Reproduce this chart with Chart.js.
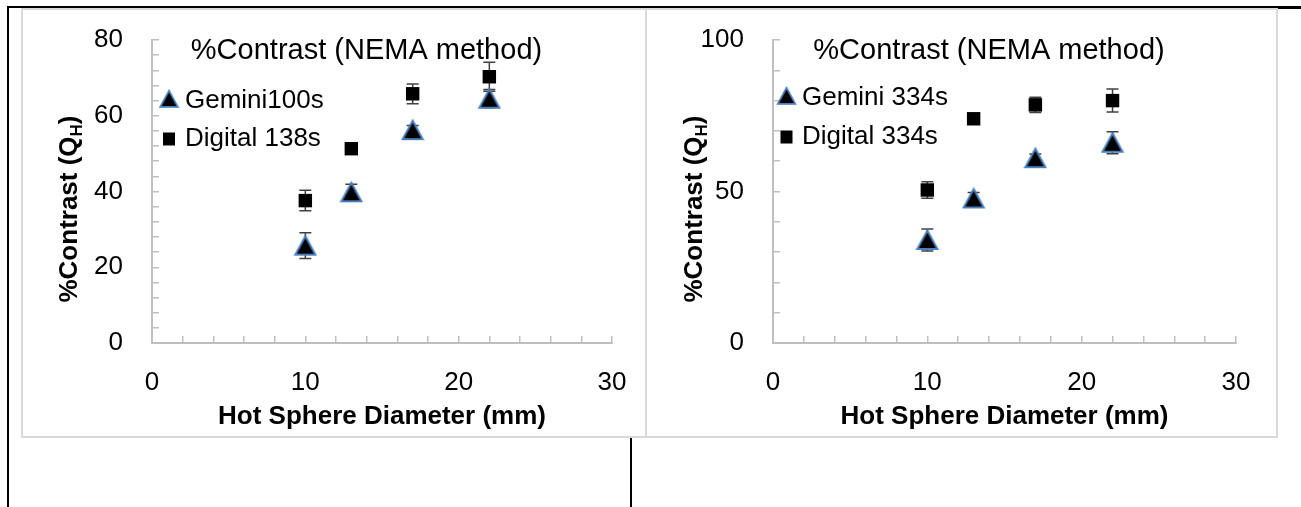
<!DOCTYPE html>
<html>
<head>
<meta charset="utf-8">
<script src="https://cdn.jsdelivr.net/npm/chart.js@4.4.1/dist/chart.umd.min.js"></script>
<style>
  body { margin: 0; background: #fff; }
  .page { position: relative; width: 1301px; height: 507px; overflow: hidden; }
  .line { position: absolute; background: #000; }
  .panel { position: absolute; border: 2px solid #d9d9d9; box-sizing: border-box; }
  canvas { position: absolute; }
</style>
</head>
<body>
<div class="page">
  <div class="panel" style="left:21px;top:8px;width:626px;height:430px"></div>
  <div class="panel" style="left:645px;top:8px;width:633px;height:430px"></div>
  <div class="line" style="left:7px;top:6px;width:1294px;height:2px"></div>
  <div class="line" style="left:1278px;top:6px;width:23px;height:3px"></div>
  <div class="line" style="left:7px;top:6px;width:2px;height:501px"></div>
  <div class="line" style="left:630px;top:438px;width:2px;height:69px"></div>
  <canvas id="chartLeft" width="624" height="428" style="left:22px;top:9px"></canvas>
  <canvas id="chartRight" width="629" height="428" style="left:647px;top:9px"></canvas>
</div>
<script>
// sphere diameters (mm)
const diameters = [10, 13, 17, 22];

// left panel
const gemini100 = [25.7, 39.8, 56.2, 64.5];
const gemini100Err = [3.4, 2.1, 1.2, 2.4];
const digital138 = [37.6, 51.3, 65.8, 70.3];
const digital138Err = [2.7, 0, 2.6, 3.8];

// right panel
const gemini334 = [34.0, 47.7, 61.0, 66.1];
const gemini334Err = [3.6, 2.0, 1.4, 3.6];
const digital334 = [50.5, 74.0, 78.6, 80.0];
const digital334Err = [2.7, 0, 2.5, 3.8];

const xTicks = [0, 10, 20, 30];
const chartTitle = "%Contrast (NEMA method)";
const xTitle = "Hot Sphere Diameter (mm)";

const FONT = '"Liberation Sans", Arial, sans-serif';
Chart.defaults.font.family = FONT;
Chart.defaults.color = "#000";

function makeTriangle() {
  const c = document.createElement("canvas");
  c.width = 24;
  c.height = 24;
  const g = c.getContext("2d");
  g.beginPath();
  g.moveTo(12, 2.5);
  g.lineTo(22, 21);
  g.lineTo(2, 21);
  g.closePath();
  g.fillStyle = "#000";
  g.fill();
  g.lineWidth = 2;
  g.strokeStyle = "#4a7ebb";
  g.stroke();
  return c;
}
const triangleImg = makeTriangle();

const errorBars = {
  id: "errorBars",
  beforeDatasetsDraw(chart) {
    const { ctx } = chart;
    const x = chart.scales.x, y = chart.scales.y;
    ctx.save();
    ctx.strokeStyle = "#404040";
    ctx.lineWidth = 1.5;
    chart.data.datasets.forEach(ds => {
      ds.data.forEach((p, i) => {
        const e = ds.errors[i];
        if (!e) return;
        const px = x.getPixelForValue(p.x);
        const top = y.getPixelForValue(p.y + e);
        const bot = y.getPixelForValue(p.y - e);
        ctx.beginPath();
        ctx.moveTo(px, top); ctx.lineTo(px, bot);
        ctx.moveTo(px - 6, top); ctx.lineTo(px + 6, top);
        ctx.moveTo(px - 6, bot); ctx.lineTo(px + 6, bot);
        ctx.stroke();
      });
    });
    ctx.restore();
  }
};

const panelText = {
  id: "panelText",
  afterDraw(chart, args, opts) {
    const ctx = chart.ctx;
    ctx.save();
    ctx.fillStyle = "#000";
    ctx.textBaseline = "alphabetic";

    // title inside the plot
    ctx.font = "29px " + FONT;
    ctx.textAlign = "center";
    ctx.fillText(chartTitle, opts.titleX, 50);

    // legend
    ctx.font = "26px " + FONT;
    ctx.textAlign = "left";
    const ds = chart.data.datasets;
    ctx.drawImage(triangleImg, opts.legendX - 10.5, opts.rows[0] - 10.5, 21, 21);
    ctx.fillText(ds[0].label, opts.textX, opts.rows[0] + 8.5);
    ctx.fillRect(opts.legendX - 6, opts.rows[1] - 6.5, 12, 13);
    ctx.fillText(ds[1].label, opts.textX, opts.rows[1] + 7);

    // rotated y title with subscript H
    ctx.translate(55, 200);
    ctx.rotate(-Math.PI / 2);
    ctx.font = "bold 26px " + FONT;
    const a = "%Contrast (Q", c = ")";
    const wa = ctx.measureText(a).width, wc = ctx.measureText(c).width;
    ctx.font = "bold 17px " + FONT;
    const wb = ctx.measureText("H").width;
    let x0 = -(wa + wb + wc) / 2;
    ctx.font = "bold 26px " + FONT;
    ctx.fillText(a, x0, 0);
    ctx.font = "bold 17px " + FONT;
    ctx.fillText("H", x0 + wa, 5);
    ctx.font = "bold 26px " + FONT;
    ctx.fillText(c, x0 + wa + wb, 0);
    ctx.restore();
  }
};

function buildChart(id, cfg) {
  return new Chart(document.getElementById(id), {
    type: "scatter",
    data: {
      datasets: [
        {
          label: cfg.names[0],
          data: diameters.map((d, i) => ({ x: d, y: cfg.tri[i] })),
          errors: cfg.triErr,
          pointStyle: triangleImg,
          pointRadius: 10
        },
        {
          label: cfg.names[1],
          data: diameters.map((d, i) => ({ x: d, y: cfg.sq[i] })),
          errors: cfg.sqErr,
          pointStyle: "rect",
          pointRadius: 9.5,
          backgroundColor: "#000",
          borderColor: "#000",
          borderWidth: 0
        }
      ]
    },
    options: {
      responsive: false,
      animation: false,
      events: [],
      layout: { padding: { left: 0, right: cfg.padRight, top: 31, bottom: 0 } },
      plugins: {
        legend: { display: false },
        tooltip: { enabled: false },
        panelText: cfg.text
      },
      scales: {
        x: {
          type: "linear",
          min: 0,
          max: 30,
          border: { color: "#bfbfbf", width: 2 },
          grid: { drawOnChartArea: false, tickLength: -7, color: "#bfbfbf", lineWidth: 1.5 },
          ticks: {
            stepSize: 2,
            autoSkip: false,
            maxRotation: 0,
            padding: 31,
            font: { size: 26 },
            callback: v => xTicks.includes(v) ? v : ""
          },
          title: {
            display: true,
            text: xTitle,
            font: { size: 26, weight: "bold" },
            padding: { top: 0, bottom: 5 }
          },
          afterFit: s => { s.height = 94; s.paddingLeft = 0; s.paddingRight = 0; }
        },
        y: {
          min: 0,
          max: cfg.yMax,
          border: { color: "#bfbfbf", width: 2 },
          grid: { drawOnChartArea: false, tickLength: -7, color: "#bfbfbf", lineWidth: 1.5 },
          ticks: {
            stepSize: cfg.yMinor,
            autoSkip: false,
            padding: 36,
            font: { size: 26 },
            callback: v => v % cfg.yMajor === 0 ? v : ""
          },
          afterFit: s => { s.width = cfg.axisWidth; s.paddingTop = 0; s.paddingBottom = 0; }
        }
      }
    },
    plugins: [errorBars, panelText]
  });
}

buildChart("chartLeft", {
  names: ["Gemini100s", "Digital 138s"],
  tri: gemini100, triErr: gemini100Err,
  sq: digital138, sqErr: digital138Err,
  yMax: 80, yMinor: 4, yMajor: 20,
  axisWidth: 130, padRight: 34,
  text: { titleX: 344.5, legendX: 147, textX: 163, rows: [90, 130] }
});

buildChart("chartRight", {
  names: ["Gemini 334s", "Digital 334s"],
  tri: gemini334, triErr: gemini334Err,
  sq: digital334, sqErr: digital334Err,
  yMax: 100, yMinor: 10, yMajor: 50,
  axisWidth: 126, padRight: 40,
  text: { titleX: 342, legendX: 139.5, textX: 155, rows: [87, 128] }
});
</script>
</body>
</html>
